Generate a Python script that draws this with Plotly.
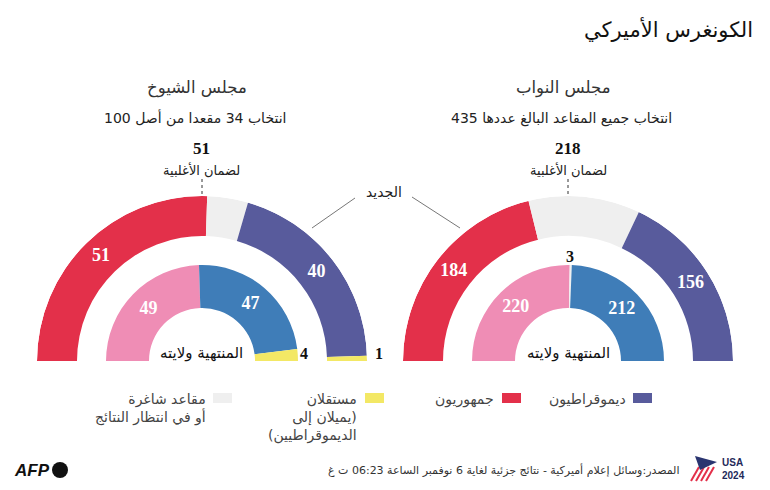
import plotly.graph_objects as go

# ---------------- data ----------------
house_total = 435
senate_total = 100

house_new_parties = ["rep", "vac", "dem"]
house_new_seats = [184, 95, 156]
house_old_parties = ["rep_old", "vac", "dem_old"]
house_old_seats = [220, 3, 212]

senate_new_parties = ["rep", "vac", "dem", "ind"]
senate_new_seats = [51, 8, 40, 1]
senate_old_parties = ["rep_old", "dem_old", "ind"]
senate_old_seats = [49, 47, 4]

house_majority = 218
senate_majority = 51

RLM = "\u200f"
legend_labels = [
    ["ديموقراطيون"],
    ["جمهوريون"],
    ["مستقلان", "(يميلان إلى", "الديموقراطيين)"],
    ["مقاعد شاغرة", "أو في انتظار النتائج"],
]
legend_keys = ["dem", "rep", "ind", "vac"]

colors = {
    "rep": "#E3304A",
    "dem": "#585B9C",
    "vac": "#EFEFEF",
    "ind": "#F3E865",
    "rep_old": "#EF8DB5",
    "dem_old": "#3F7DB8",
}

W, H = 770, 490
AR = "DejaVu Sans"
SERIF = "Liberation Serif"

fig = go.Figure()


def ring(seats, parties, total, base, thick, subplot, label_min=5):
    thetas, widths, cols = [], [], []
    cum = 0
    for v, p in zip(seats, parties):
        thetas.append((cum + v / 2) * 180 / total)
        widths.append(v * 180 / total)
        cols.append(colors[p])
        cum += v
    fig.add_trace(go.Barpolar(
        theta=thetas, width=widths, r=[thick] * len(seats), base=[base] * len(seats),
        marker=dict(color=cols, line=dict(width=0)),
        subplot=subplot, hoverinfo="skip", showlegend=False))
    lt, lr, ltxt = [], [], []
    for t, v, p in zip(thetas, seats, parties):
        if v >= label_min and p != "vac":
            lt.append(t)
            lr.append(base + thick / 2)
            ltxt.append(str(v))
    fig.add_trace(go.Scatterpolar(
        theta=lt, r=lr, text=ltxt, mode="text",
        textfont=dict(family=SERIF, size=18, color="white", weight="bold"),
        subplot=subplot, hoverinfo="skip", showlegend=False))


ring(house_new_seats, house_new_parties, house_total, 125, 40, "polar")
ring(house_old_seats, house_old_parties, house_total, 53, 43, "polar")
ring(senate_new_seats, senate_new_parties, senate_total, 125, 40, "polar2")
ring(senate_old_seats, senate_old_parties, senate_total, 53, 43, "polar2")

R = 165
base_y = 361
hcx, scx = 568, 202


def polar_cfg(cx):
    return dict(
        domain=dict(x=[(cx - R) / W, (cx + R) / W], y=[1 - base_y / H, 1 - (base_y - R) / H]),
        sector=[0, 180], hole=0, bgcolor="rgba(0,0,0,0)",
        radialaxis=dict(range=[0, R], visible=False),
        angularaxis=dict(visible=False, rotation=180, direction="clockwise"),
    )


annotations = []
shapes = []


def txt(x, y, s, size, color="#222", family=AR, bold=False, xanchor="center"):
    annotations.append(dict(
        x=x / W, y=1 - y / H, xref="paper", yref="paper", text=s, showarrow=False,
        xanchor=xanchor, yanchor="middle",
        font=dict(family=family, size=size, color=color, weight="bold" if bold else "normal")))


# title
txt(755, 30, "الكونغرس الأميركي", 21, "#111", xanchor="right")

# chamber headers
for cx, name, sub, maj in [(hcx, "مجلس النواب", "انتخاب جميع المقاعد البالغ عددها 435", house_majority),
                            (scx, "مجلس الشيوخ", "انتخاب 34 مقعدا من أصل 100", senate_majority)]:
    txt(cx - 5, 88, name, 16.5, "#333")
    txt(cx - 7, 118, sub, 14, "#222")
    txt(cx, 148, str(maj), 17, "#111", family=SERIF, bold=True)
    txt(cx, 170, "لضمان الأغلبية", 13, "#222")
    shapes.append(dict(type="line", xref="paper", yref="paper",
                       x0=cx / W, x1=cx / W, y0=1 - 179 / H, y1=1 - 197 / H,
                       line=dict(color="#333", width=1, dash="dot")))
    txt(cx, 353, "المنتهية ولايته", 15, "#111")

# small outside labels
txt(570, 256, str(house_old_seats[1]), 16, "#111", family=SERIF, bold=True)
txt(304, 353, str(senate_old_seats[2]), 16, "#111", family=SERIF, bold=True)
txt(379, 353, str(senate_new_seats[3]), 16, "#111", family=SERIF, bold=True)

# "new" label and connector lines
txt(384, 192, "الجديد", 14, "#222")
for x0, y0, x1, y1 in [(355, 198, 312, 228), (412, 197, 460, 228)]:
    shapes.append(dict(type="line", xref="paper", yref="paper",
                       x0=x0 / W, y0=1 - y0 / H, x1=x1 / W, y1=1 - y1 / H,
                       line=dict(color="#777", width=1)))

# legend
leg_pos = [(633, 628), (502, 496), (365, 359), (213, 208)]
for (sx, tx), key, lines in zip(leg_pos, legend_keys, legend_labels):
    shapes.append(dict(type="rect", xref="paper", yref="paper",
                       x0=sx / W, x1=(sx + 19) / W, y0=1 - 403 / H, y1=1 - 393 / H,
                       fillcolor=colors[key], line=dict(width=0)))
    lab = "<br>".join(RLM + ln + RLM for ln in lines)
    annotations.append(dict(
        x=tx / W, y=1 - 389 / H, xref="paper", yref="paper", text=lab, showarrow=False,
        xanchor="right", yanchor="top", align="right",
        font=dict(family=AR, size=14, color="#444")))

# footer
txt(682, 470, RLM + "المصدر:وسائل إعلام أميركية - نتائج جزئية لغاية 6 نوفمبر الساعة 06:23 ت غ" + RLM,
    11, "#333", xanchor="right")
annotations.append(dict(x=12 / W, y=1 - 470 / H, xref="paper", yref="paper", text="<i>AFP</i>",
                        showarrow=False, xanchor="left", yanchor="middle",
                        font=dict(family="Liberation Sans", size=17, color="#111", weight="bold")))
shapes.append(dict(type="circle", xref="paper", yref="paper",
                   x0=52 / W, x1=68 / W, y0=1 - 478 / H, y1=1 - 462 / H,
                   fillcolor="#111", line=dict(width=0)))
annotations.append(dict(x=720 / W, y=1 - 469 / H, xref="paper", yref="paper", text="USA<br>2024",
                        showarrow=False, xanchor="left", yanchor="middle", align="left",
                        font=dict(family="Liberation Sans", size=10, color="#1f2a5a", weight="bold")))
for i in range(4):
    shapes.append(dict(type="line", xref="paper", yref="paper",
                       x0=(691 + i * 5) / W, y0=1 - 481 / H, x1=(699 + i * 5) / W, y1=1 - 467 / H,
                       line=dict(color="#E3304A", width=2)))
shapes.append(dict(type="path", xref="paper", yref="paper",
                   path="M {0} {1} L {2} {3} L {4} {5} Z".format(
                       695 / W, 1 - 456 / H, 717 / W, 1 - 462 / H, 700 / W, 1 - 470 / H),
                   fillcolor="#2a3570", line=dict(width=0)))

fig.update_layout(
    width=W, height=H, margin=dict(l=0, r=0, t=0, b=0),
    paper_bgcolor="white", plot_bgcolor="white", showlegend=False,
    polar=polar_cfg(hcx), polar2=polar_cfg(scx),
    annotations=annotations, shapes=shapes,
)

fig.write_html("out.html", config={"displayModeBar": False},
               post_script="document.body.style.margin='0px';document.body.style.overflow='hidden';")
